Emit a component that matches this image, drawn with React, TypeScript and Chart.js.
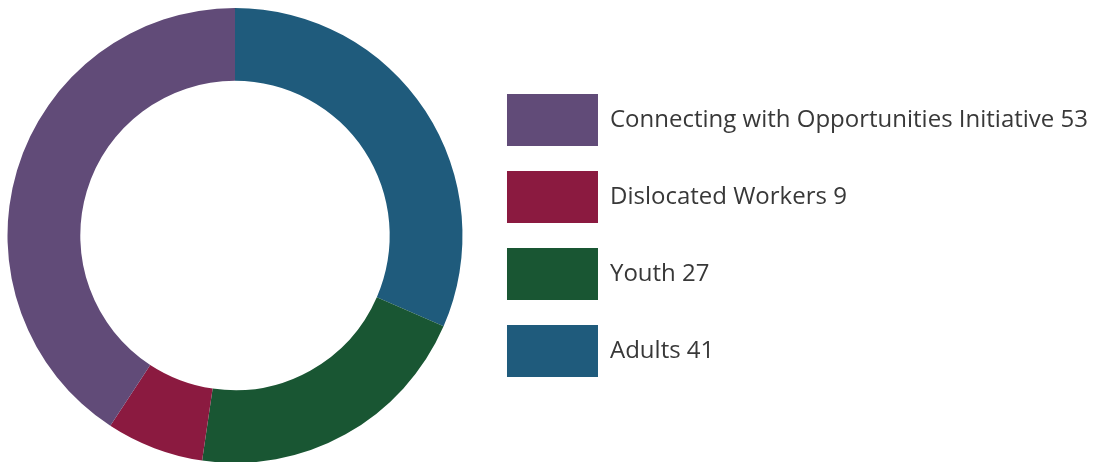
import React, { useEffect, useRef } from "react";
import { Chart, registerables } from "chart.js";

Chart.register(...registerables);

const categories = [
  "Connecting with Opportunities Initiative",
  "Dislocated Workers",
  "Youth",
  "Adults",
];
const values = [53, 9, 27, 41];
const colors = ["#614b78", "#8b1a40", "#195633", "#1f5b7c"];

const FONT_FAMILY = '"Open Sans", sans-serif';
const FONT_SIZE = 24;
const BOX_W = 91;
const BOX_H = 52;
const PAD = 25;
const CHART_AREA_W = 502;
const CANVAS_H = 455;

export default function App() {
  const canvasRef = useRef<HTMLCanvasElement | null>(null);
  const wrapRef = useRef<HTMLDivElement | null>(null);

  useEffect(() => {
    const displayLabels = categories.map((c, i) => `${c} ${values[i]}`);
    // measure the widest legend label so the legend sits where the reference puts it
    const m = document.createElement("canvas").getContext("2d")!;
    m.font = `normal ${FONT_SIZE}px ${FONT_FAMILY}`;
    const textW = Math.max(...displayLabels.map((t) => m.measureText(t).width));
    const legendW = PAD + BOX_W + FONT_SIZE / 2 + textW;
    const totalW = Math.ceil(CHART_AREA_W + legendW) + 1;
    if (wrapRef.current) wrapRef.current.style.width = totalW + "px";

    // drawn clockwise from the top: Adults, Youth, Dislocated, Connecting
    const order = [3, 2, 1, 0];
    const chart = new Chart(canvasRef.current!, {
      type: "doughnut",
      data: {
        labels: order.map((i) => displayLabels[i]),
        datasets: [
          {
            data: order.map((i) => values[i]),
            backgroundColor: order.map((i) => colors[i]),
            borderWidth: 0,
          },
        ],
      },
      options: {
        animation: false,
        responsive: true,
        maintainAspectRatio: false,
        events: [],
        cutout: "68%",
        layout: { padding: 0 },
        plugins: {
          tooltip: { enabled: false },
          legend: {
            position: "right",
            reverse: true,
            maxWidth: 2000,
            labels: {
              boxWidth: BOX_W,
              boxHeight: BOX_H,
              padding: PAD,
              color: "#383838",
              font: { family: FONT_FAMILY, size: FONT_SIZE },
            },
          },
        },
      },
    });
    return () => chart.destroy();
  }, []);

  return (
    <div
      ref={wrapRef}
      style={{
        position: "fixed",
        left: -12,
        top: 8,
        width: 1100,
        height: CANVAS_H,
      }}
    >
      <canvas ref={canvasRef} />
    </div>
  );
}
